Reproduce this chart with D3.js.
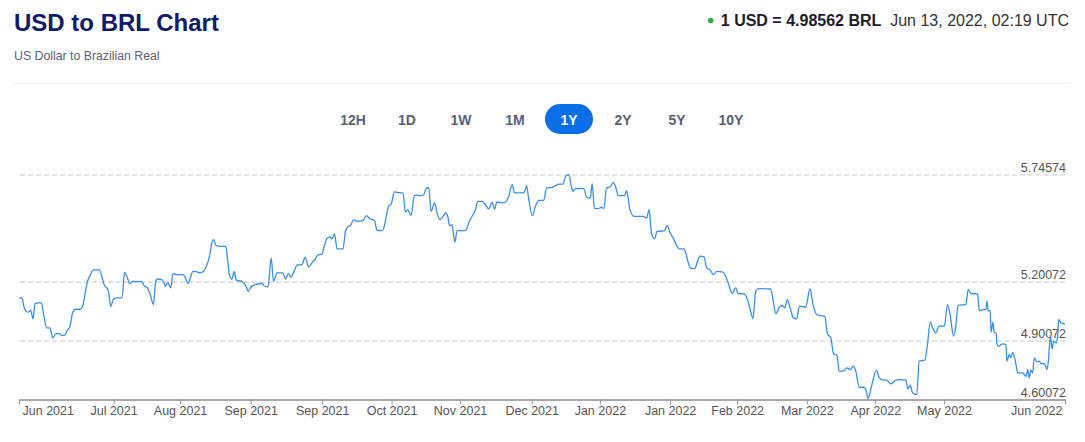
<!DOCTYPE html>
<html><head><meta charset="utf-8">
<script src="https://cdn.jsdelivr.net/npm/d3@7"></script>
<style>
body{margin:0;background:#fff;}
svg{display:block;font-family:"Liberation Sans",Arial,Helvetica,sans-serif;}
</style>
</head><body>
<svg id="chart" width="1085" height="442"></svg>
<script>
// ---- data (days since 2021-06-13, USD->BRL rate) ----
const days = [0.0,1.0,1.7,2.4,3.3,4.1,4.9,5.6,6.7,7.8,8.7,9.7,10.8,11.8,12.9,14.1,15.0,16.0,16.7,17.8,18.7,19.7,21.3,22.2,23.0,23.9,24.8,26.0,28.1,28.9,29.7,30.6,31.2,32.0,33.0,34.1,36.0,36.8,37.6,38.8,39.7,42.8,43.7,44.8,45.8,46.9,47.7,48.3,49.8,50.6,51.1,51.9,53.0,53.7,54.8,57.2,58.1,58.9,59.7,60.6,61.5,63.2,64.4,65.5,66.5,67.3,67.9,68.8,70.2,72.2,72.8,73.5,74.3,75.1,75.8,77.8,78.9,80.1,80.9,82.4,84.8,85.7,86.9,88.0,88.8,90.0,92.1,93.0,94.0,94.9,95.8,97.0,98.7,99.9,101.1,102.2,103.4,104.2,105.7,106.5,107.5,108.6,109.2,110.1,111.0,113.1,113.9,115.0,
115.6,116.8,117.9,120.0,121.2,122.6,124.0,124.9,126.7,127.3,128.2,129.0,129.9,131.0,133.1,134.0,134.8,135.6,136.8,138.0,140.1,141.2,142.2,143.0,143.8,145.0,145.9,146.8,148.0,148.8,149.6,150.3,151.1,152.1,152.9,155.2,156.1,156.9,158.1,159.3,160.1,161.6,162.8,163.9,165.1,165.9,166.8,168.6,169.8,170.9,172.1,172.9,175.6,176.4,177.1,177.9,179.1,180.2,181.4,183.1,184.1,186.1,187.2,188.4,189.9,190.7,191.9,192.7,193.3,194.2,196.5,197.3,198.0,198.9,199.4,200.0,200.8,202.0,203.2,204.1,205.0,206.2,207.4,208.2,209.1,210.5,211.3,212.0,213.2,214.6,216.0,217.8,219.0,219.9,220.7,221.8,222.7,223.9,225.3,226.2,227.2,228.3,229.5,230.6,232.0,232.6,233.4,234.4,235.8,236.7,237.6,
239.0,240.0,241.1,242.3,243.5,245.4,246.6,247.8,248.9,250.1,250.9,253.0,254.2,255.3,256.1,257.1,258.2,262.3,263.2,264.1,265.2,266.4,267.2,268.1,269.1,270.2,271.4,272.3,273.4,274.5,276.0,277.2,278.4,279.5,281.2,282.1,283.3,284.2,285.4,286.2,287.7,288.9,290.0,291.2,292.0,293.2,294.7,295.5,296.3,297.5,299.2,300.2,301.3,302.8,304.2,306.0,307.7,309.5,310.1,311.0,311.8,313.3,314.1,316.1,317.0,318.0,318.8,319.9,321.1,322.9,324.0,325.0,326.1,326.9,327.7,330.4,331.2,332.2,334.5,335.1,336.6,337.4,337.8,338.2,338.9,339.2,339.9,340.3,341.0,341.2,341.8,343.2,344.4,344.7,345.6,346.1,346.7,347.3,347.9,348.5,350.2,351.4,352.0,352.5,353.1,353.7,354.3,355.2,356.0,356.6,357.8,358.7,359.2,359.9,360.5,361.0,361.9,362.4,362.8,363.6,364.4,365.0];
const rates = [5.118,5.118,5.075,5.050,5.045,5.055,5.011,5.089,5.092,5.092,5.024,4.965,4.965,4.914,4.936,4.936,4.926,4.928,4.948,4.974,5.041,5.060,5.060,5.075,5.135,5.202,5.231,5.260,5.260,5.228,5.185,5.169,5.152,5.075,5.113,5.118,5.118,5.248,5.228,5.191,5.202,5.201,5.180,5.169,5.135,5.084,5.202,5.214,5.211,5.194,5.177,5.194,5.169,5.241,5.236,5.236,5.219,5.191,5.214,5.252,5.253,5.245,5.253,5.282,5.330,5.397,5.414,5.384,5.380,5.380,5.313,5.228,5.214,5.252,5.208,5.202,5.185,5.152,5.172,5.185,5.191,5.177,5.174,5.321,5.202,5.245,5.245,5.214,5.241,5.224,5.245,5.285,5.287,5.324,5.274,5.296,5.316,5.336,5.340,5.380,5.421,5.428,5.418,5.443,5.367,5.367,5.457,5.482,
5.485,5.516,5.507,5.511,5.536,5.519,5.513,5.462,5.460,5.474,5.536,5.584,5.596,5.657,5.652,5.652,5.555,5.567,5.538,5.640,5.638,5.643,5.677,5.677,5.558,5.601,5.550,5.516,5.533,5.550,5.533,5.485,5.491,5.402,5.460,5.460,5.465,5.499,5.533,5.567,5.609,5.609,5.592,5.570,5.604,5.570,5.606,5.601,5.606,5.635,5.694,5.652,5.652,5.657,5.689,5.618,5.536,5.584,5.614,5.614,5.677,5.680,5.689,5.697,5.697,5.736,5.745,5.685,5.660,5.674,5.675,5.669,5.631,5.626,5.630,5.699,5.575,5.572,5.579,5.572,5.677,5.682,5.706,5.682,5.638,5.638,5.638,5.663,5.567,5.533,5.533,5.533,5.524,5.567,5.448,5.419,5.457,5.457,5.460,5.487,5.448,5.423,5.384,5.367,5.367,5.350,5.304,5.269,5.267,5.301,5.330,
5.326,5.270,5.262,5.236,5.253,5.250,5.228,5.180,5.140,5.169,5.140,5.138,5.109,5.050,5.013,5.152,5.165,5.163,5.101,5.036,5.067,5.079,5.067,5.109,5.067,5.016,5.011,5.075,5.075,5.070,5.163,5.075,5.033,5.028,5.024,4.935,4.914,4.835,4.826,4.745,4.745,4.762,4.753,4.770,4.745,4.663,4.663,4.652,4.606,4.669,4.750,4.711,4.702,4.699,4.680,4.699,4.702,4.699,4.655,4.672,4.635,4.626,4.796,4.801,4.880,4.996,4.965,4.940,4.974,4.974,5.084,5.024,4.923,4.974,5.080,5.084,5.160,5.140,5.138,5.053,5.058,5.058,5.101,5.050,5.053,4.943,4.994,4.940,4.940,4.889,4.872,4.884,4.880,4.796,4.830,4.813,4.841,4.821,4.779,4.736,4.736,4.719,4.753,4.711,4.750,4.736,4.813,4.792,4.796,4.784,4.784,4.753,4.796,4.923,4.858,4.897,4.889,4.914,5.008,4.991,4.987,4.986];

const yTickValues = [4.60072, 4.90072, 5.20072, 5.74574];
const xTickDays = [0, 33, 56.2, 80.85, 105.8, 130, 153.9, 178.9, 202.7, 227.2, 250.6, 274.9, 298.8, 322.8, 365];
const xTickLabels = ["Jun 2021","Jul 2021","Aug 2021","Sep 2021","Sep 2021","Oct 2021","Nov 2021","Dec 2021","Jan 2022","Jan 2022","Feb 2022","Mar 2022","Apr 2022","May 2022","Jun 2022"];
const rangeButtons = ["12H","1D","1W","1M","1Y","2Y","5Y","10Y"];
const activeRange = "1Y";
const titleText = "USD to BRL Chart";
const subtitleText = "US Dollar to Brazilian Real";
const quoteText = "1 USD = 4.98562 BRL";
const timeText = "Jun 13, 2022, 02:19 UTC";

// ---- drawing ----
const svg = d3.select("#chart");

// header
svg.append("text").attr("x", 14).attr("y", 31)
  .attr("font-size", 24).attr("font-weight", "bold").attr("fill", "#111a68")
  .text(titleText);
svg.append("text").attr("x", 14).attr("y", 60)
  .attr("font-size", 12.3).attr("fill", "#5d6275")
  .text(subtitleText);
svg.append("circle").attr("cx", 710.7).attr("cy", 20.5).attr("r", 2.8).attr("fill", "#2fae3f");
const hdr = svg.append("text").attr("x", 1069).attr("y", 26).attr("text-anchor", "end").attr("font-size", 16);
hdr.append("tspan").attr("font-weight", "bold").attr("fill", "#1b1b2b").text(quoteText);
hdr.append("tspan").attr("fill", "#333").text("\u00a0\u00a0" + timeText);

svg.append("line").attr("x1", 14).attr("x2", 1071).attr("y1", 83.5).attr("y2", 83.5)
  .attr("stroke", "#f0f0f0").attr("stroke-width", 1);

// range buttons
const bx = d3.scalePoint().domain(rangeButtons).range([353, 731]);
const btn = svg.append("g").selectAll("g").data(rangeButtons).join("g")
  .attr("transform", d => `translate(${bx(d)},0)`);
btn.filter(d => d === activeRange).append("rect")
  .attr("x", -24).attr("y", 104).attr("width", 48).attr("height", 30)
  .attr("rx", 15).attr("fill", "#0a6fe6");
btn.append("text").attr("y", 124.5).attr("text-anchor", "middle")
  .attr("font-size", 14).attr("font-weight", "bold")
  .attr("fill", d => d === activeRange ? "#fff" : "#5a5f74")
  .text(d => d);

// scales
const x = d3.scaleLinear().domain([0, 365]).range([19, 1065]);
const y = d3.scaleLinear().domain([4.60072, 5.74574]).range([399.5, 174.5]);

// grid lines
const grid = svg.append("g").attr("transform", "translate(1065,0)")
  .call(d3.axisLeft(y).tickValues(yTickValues.slice(1)).tickSize(1046).tickFormat(""));
grid.select(".domain").remove();
grid.selectAll("line").attr("stroke", "#dcdcdc").attr("stroke-width", 1.6).attr("stroke-dasharray", "5,3");

// y labels
const yl = svg.append("g").attr("transform", "translate(1066,0)")
  .call(d3.axisLeft(y).tickValues(yTickValues).tickSize(0).tickPadding(0).tickFormat(d3.format(".5f")));
yl.select(".domain").remove();
yl.selectAll("text").attr("dy", -3).attr("x", 0).attr("fill", "#555")
  .attr("font-size", 12.5).attr("font-family", "Liberation Sans, Arial, sans-serif");

// line
const pts = days.map((d, i) => [d, rates[i]]);
svg.append("path").datum(pts)
  .attr("fill", "none").attr("stroke", "#3a8ee8").attr("stroke-width", 1.3)
  .attr("stroke-linejoin", "round")
  .attr("d", d3.line().x(d => x(d[0])).y(d => y(d[1])).curve(d3.curveMonotoneX));

// x axis
const xa = svg.append("g").attr("transform", "translate(0,399.5)")
  .call(d3.axisBottom(x).tickValues(xTickDays).tickSize(5).tickSizeOuter(0).tickPadding(2)
    .tickFormat((d, i) => xTickLabels[i]));
xa.select(".domain").attr("stroke", "#a8a8a8").attr("stroke-width", 2);
xa.selectAll(".tick line").attr("stroke", "#999");
xa.selectAll("text").attr("fill", "#555").attr("font-size", 12.5)
  .attr("font-family", "Liberation Sans, Arial, sans-serif");
const tks = xa.selectAll(".tick text");
const n = xTickDays.length;
tks.filter((d, i) => i === 0).attr("text-anchor", "start").attr("x", 3);
tks.filter((d, i) => i === n - 1).attr("text-anchor", "end").attr("x", -3);
</script>
</body></html>
